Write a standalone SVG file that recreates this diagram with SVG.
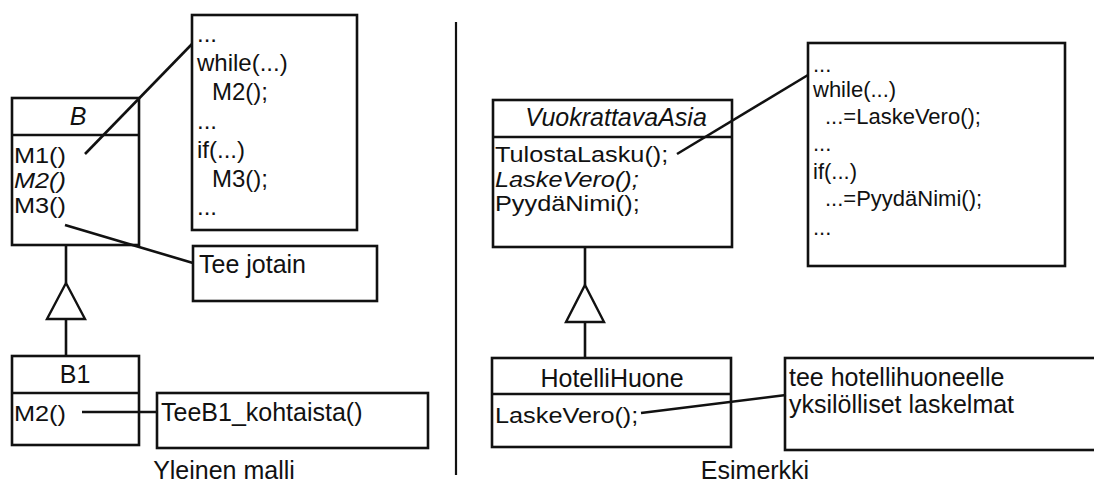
<svg xmlns="http://www.w3.org/2000/svg" width="1094" height="484" viewBox="0 0 1094 484">
  <style>
    .box { fill: #fff; stroke: #111; stroke-width: 2.6; }
    .div { stroke: #111; stroke-width: 2.4; fill: none; }
    .edge { stroke: #111; stroke-width: 2.6; fill: none; }
    .tri { fill: #fff; stroke: #111; stroke-width: 2.4; stroke-linejoin: miter; }
    text { font-family: "Liberation Sans", Arial, Helvetica, sans-serif; fill: #111; font-size: 25px; }
    .it { font-style: italic; }
    .mid { text-anchor: middle; }
    .member { font-size: 22px; }
    .code1 { font-size: 24px; }
    .code2 { font-size: 22px; }
  </style>

  <!-- dividing line between the two halves -->
  <line x1="456" y1="22" x2="456" y2="475" stroke="#111" stroke-width="2.2"/>

  <!-- general pattern -->
  <g id="class-B">
    <rect class="box" x="12" y="98" width="127" height="147"/>
    <line class="div" x1="12" y1="135" x2="139" y2="135"/>
    <text class="it mid" x="78" y="125">B</text>
    <g transform="translate(14 0) scale(1.15 1)">
      <text class="member" x="0" y="163">M1()</text>
      <text class="member it" x="0" y="188">M2()</text>
      <text class="member" x="0" y="213">M3()</text>
    </g>
  </g>

  <g id="code-B">
    <rect class="box" x="192" y="15" width="165" height="215"/>
    <text class="code1" x="197" y="42">...</text>
    <text class="code1" x="197" y="71">while(...)</text>
    <text class="code1" x="212" y="100">M2();</text>
    <text class="code1" x="197" y="129">...</text>
    <text class="code1" x="197" y="158">if(...)</text>
    <text class="code1" x="212" y="187">M3();</text>
    <text class="code1" x="197" y="215">...</text>
  </g>

  <g id="note-tee-jotain">
    <rect class="box" x="193" y="246" width="184" height="55"/>
    <text x="199" y="273">Tee jotain</text>
  </g>

  <g id="class-B1">
    <rect class="box" x="12" y="356" width="127" height="89"/>
    <line class="div" x1="12" y1="393" x2="139" y2="393"/>
    <text class="mid" x="75" y="383">B1</text>
    <g transform="translate(14 0) scale(1.15 1)">
      <text class="member" x="0" y="421">M2()</text>
    </g>
  </g>

  <g id="note-teeb1">
    <rect class="box" x="157" y="393" width="271" height="55"/>
    <text x="161" y="421">TeeB1_kohtaista()</text>
  </g>

  <text id="caption-left" class="mid" x="224" y="479">Yleinen malli</text>

  <!-- worked example -->
  <g id="class-vuokrattava">
    <rect class="box" x="493" y="100" width="239" height="147"/>
    <line class="div" x1="493" y1="137" x2="732" y2="137"/>
    <text class="it mid" x="616" y="126">VuokrattavaAsia</text>
    <g transform="translate(495 0) scale(1.15 1)">
      <text class="member" x="0" y="162">TulostaLasku();</text>
      <text class="member it" x="0" y="187">LaskeVero();</text>
      <text class="member" x="0" y="211">PyydäNimi();</text>
    </g>
  </g>

  <g id="code-vuokrattava">
    <rect class="box" x="808" y="43" width="257" height="223"/>
    <text class="code2" x="813" y="72">...</text>
    <text class="code2" x="813" y="97">while(...)</text>
    <text class="code2" x="825" y="124">...=LaskeVero();</text>
    <text class="code2" x="813" y="151">...</text>
    <text class="code2" x="813" y="179">if(...)</text>
    <text class="code2" x="825" y="206">...=PyydäNimi();</text>
    <text class="code2" x="813" y="235">...</text>
  </g>

  <g id="class-hotellihuone">
    <rect class="box" x="492" y="358" width="239" height="89"/>
    <line class="div" x1="492" y1="394" x2="731" y2="394"/>
    <text class="mid" x="612" y="387">HotelliHuone</text>
    <g transform="translate(495 0) scale(1.15 1)">
      <text class="member" x="0" y="423">LaskeVero();</text>
    </g>
  </g>

  <g id="note-hotellihuone">
    <rect class="box" x="785" y="358" width="320" height="92"/>
    <text x="789" y="386">tee hotellihuoneelle</text>
    <text x="789" y="413">yksilölliset laskelmat</text>
  </g>

  <text id="caption-right" class="mid" x="755" y="479">Esimerkki</text>

  <!-- connectors drawn over the boxes: note links and generalisation arrows -->
  <g id="connectors">
    <line class="edge" x1="85" y1="154" x2="192" y2="44"/>
    <line class="edge" x1="65" y1="225" x2="193" y2="263"/>
    <line class="edge" x1="82" y1="412" x2="157" y2="412"/>
    <line class="edge" x1="66" y1="245" x2="66" y2="283"/>
    <line class="edge" x1="66" y1="319" x2="66" y2="356"/>
    <polygon class="tri" points="66,283 85,319 47,319"/>

    <line class="edge" x1="677" y1="154" x2="808" y2="75"/>
    <line class="edge" x1="641" y1="413" x2="786" y2="395"/>
    <line class="edge" x1="585" y1="247" x2="585" y2="285"/>
    <line class="edge" x1="585" y1="322" x2="585" y2="358"/>
    <polygon class="tri" points="585,285 604,322 566,322"/>
  </g>
</svg>
